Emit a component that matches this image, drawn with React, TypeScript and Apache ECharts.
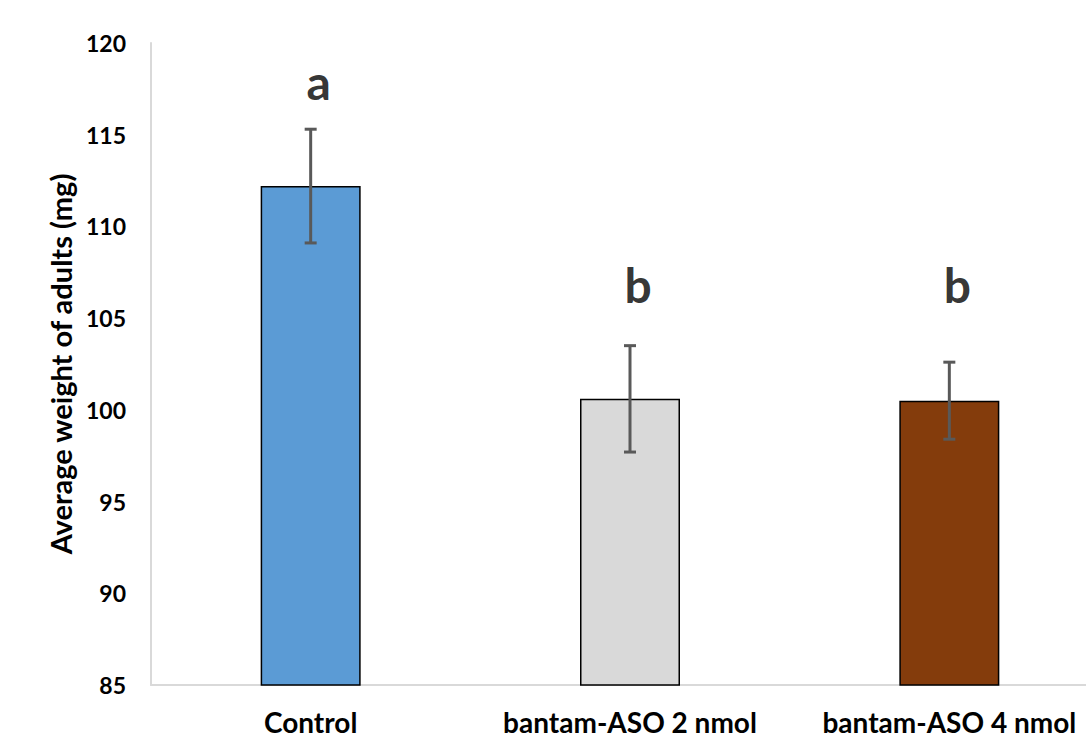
import React, { useEffect, useRef } from "react";
import * as echarts from "echarts";

const categories = ["Control", "bantam-ASO 2 nmol", "bantam-ASO 4 nmol"];
const means = [112.2, 100.6, 100.5];
const errors = [3.1, 2.9, 2.1];
const barColors = ["#5B9BD5", "#D9D9D9", "#843C0C"];
const letters = ["a", "b", "b"];
const letterValues = [117.9, 106.85, 106.85];
const yMin = 85;
const yMax = 120;
const yStep = 5;

const FONT = "Lato, 'Open Sans', sans-serif";

export default function App() {
  const ref = useRef<HTMLDivElement>(null);
  useEffect(() => {
    if (!ref.current) return;
    const chart = echarts.init(ref.current, null, { renderer: "svg" });
    const errData = means.map((m, i) => [i, m - errors[i], m + errors[i]]);
    chart.setOption({
      animation: false,
      backgroundColor: "#ffffff",
      grid: { left: 151, top: 43, bottom: 55, right: -23, outerBoundsMode: "none", containLabel: false },
      xAxis: {
        type: "category",
        data: categories,
        axisLine: { show: true, lineStyle: { color: "#D9D9D9", width: 2 } },
        axisTick: { show: false },
        axisLabel: {
          interval: 0,
          hideOverlap: false,
          color: "#000",
          fontFamily: FONT,
          fontWeight: "bold",
          fontSize: 28,
          margin: 23,
        },
      },
      yAxis: {
        type: "value",
        min: yMin,
        max: yMax,
        interval: yStep,
        name: "Average weight of adults (mg)",
        nameLocation: "middle",
        nameGap: 75,
        nameTextStyle: {
          color: "#000",
          fontFamily: FONT,
          fontWeight: "bold",
          fontSize: 29,
        },
        axisLine: { show: true, lineStyle: { color: "#D9D9D9", width: 2 } },
        axisTick: { show: false },
        splitLine: { show: false },
        axisLabel: {
          color: "#000",
          fontFamily: FONT,
          fontWeight: "bold",
          fontSize: 23,
          margin: 25,
        },
      },
      series: [
        {
          type: "bar",
          barWidth: 100,
          data: means.map((v, i) => ({
            value: v,
            itemStyle: { color: barColors[i], borderColor: "#000", borderWidth: 1.5 },
          })),
        },
        {
          type: "custom",
          data: errData,
          z: 10,
          renderItem: (params: any, api: any) => {
            const x = api.coord([api.value(0), api.value(1)])[0];
            const yLo = api.coord([api.value(0), api.value(1)])[1];
            const yHi = api.coord([api.value(0), api.value(2)])[1];
            const half = 6;
            const style = { stroke: "#595959", lineWidth: 3 };
            return {
              type: "group",
              children: [
                { type: "line", shape: { x1: x, y1: yLo, x2: x, y2: yHi }, style },
                { type: "line", shape: { x1: x - half, y1: yLo, x2: x + half, y2: yLo }, style },
                { type: "line", shape: { x1: x - half, y1: yHi, x2: x + half, y2: yHi }, style },
              ],
            };
          },
        },
        {
          type: "scatter",
          symbolSize: 0,
          z: 11,
          data: letterValues.map((v, i) => ({ value: [i, v], name: letters[i] })),
          label: {
            show: true,
            position: "inside",
            offset: [8, 0],
            formatter: (p: any) => p.name,
            color: "#000",
            fontFamily: FONT,
            fontWeight: "bold",
            fontSize: 48,
          },
        },
      ],
    });
    return () => chart.dispose();
  }, []);
  return (
    <div
      ref={ref}
      style={{ position: "fixed", left: 0, top: 0, width: 1086, height: 740, background: "#fff" }}
    />
  );
}
